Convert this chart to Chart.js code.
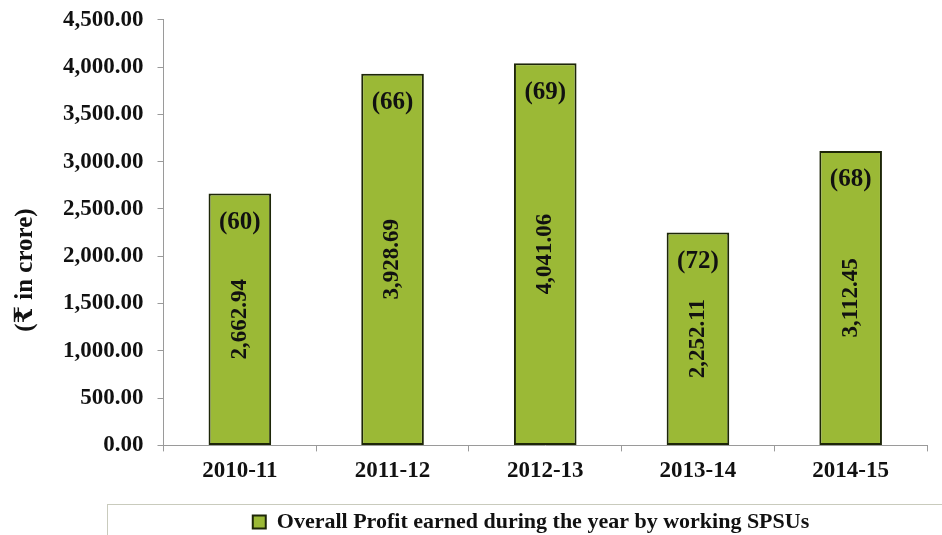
<!DOCTYPE html>
<html>
<head>
<meta charset="utf-8">
<script src="https://cdn.jsdelivr.net/npm/chart.js@4.4.1/dist/chart.umd.min.js"></script>
<style>
  html, body { margin: 0; padding: 0; background: #fff; }
  #wrap { width: 942px; height: 535px; }
</style>
</head>
<body>
<div id="wrap"><canvas id="profitChart" width="942" height="535"></canvas></div>
<script>
// Profit earned by working SPSUs (Rs in crore)
const years = ['2010-11', '2011-12', '2012-13', '2013-14', '2014-15'];
const profit = [2662.94, 3928.69, 4041.06, 2252.11, 3112.45];
// number of working SPSUs earning profit each year
const spsuCounts = [60, 66, 69, 72, 68];
const yTicks = [0, 500, 1000, 1500, 2000, 2500, 3000, 3500, 4000, 4500];

const FONT = "'Liberation Serif', 'Times New Roman', 'DejaVu Serif', serif";
const fmt = v => v.toLocaleString('en-US', { minimumFractionDigits: 2, maximumFractionDigits: 2 });

// labels inside the bars: count at top, value rotated in the middle
const barLabels = {
    id: 'barLabels',
    afterDatasetsDraw(chart) {
        const ctx = chart.ctx;
        const meta = chart.getDatasetMeta(0);
        ctx.save();
        ctx.fillStyle = '#111';
        ctx.textAlign = 'center';
        ctx.textBaseline = 'middle';
        meta.data.forEach((bar, i) => {
            ctx.font = 'bold 25px ' + FONT;
            ctx.fillText('(' + spsuCounts[i] + ')', bar.x, bar.y + 29);
            const mid = (bar.y + bar.base) / 2;
            ctx.save();
            ctx.translate(bar.x, mid);
            ctx.rotate(-Math.PI / 2);
            ctx.font = 'bold 23px ' + FONT;
            ctx.fillText(fmt(profit[i]), 0, 0);
            ctx.restore();
        });
        ctx.restore();
    }
};

// legend sits in a framed strip starting under the y axis labels
const legendFrame = {
    id: 'legendFrame',
    afterLayout(chart) {
        chart.legend.left += 62;
        chart.legend.right += 62;
    },
    afterDraw(chart) {
        const lg = chart.legend;
        const ctx = chart.ctx;
        ctx.save();
        ctx.strokeStyle = '#c9cbbd';
        ctx.lineWidth = 1;
        ctx.strokeRect(107.5, lg.top + 13.5, chart.width, chart.height);
        ctx.restore();
    }
};

new Chart(document.getElementById('profitChart'), {
    type: 'bar',
    data: {
        labels: years,
        datasets: [{
            label: 'Overall Profit earned during the year by working SPSUs',
            data: profit,
            backgroundColor: '#9bb936',
            borderColor: '#1d2608',
            borderWidth: 2,
            borderSkipped: false,
            barPercentage: 0.41,
            categoryPercentage: 1
        }]
    },
    options: {
        responsive: false,
        animation: false,
        layout: { padding: { top: 1, right: 15, left: 11, bottom: -8 } },
        scales: {
            x: {
                offset: true,
                grid: { offset: true, drawOnChartArea: false, drawTicks: true, tickLength: 6, color: '#9a9a9a' },
                border: { color: '#9a9a9a' },
                ticks: { color: '#111', font: { family: FONT, size: 23, weight: 'bold' }, padding: 6 }
            },
            y: {
                min: 0,
                max: 4500,
                afterBuildTicks(scale) { scale.ticks = yTicks.map(v => ({ value: v })); },
                grid: { drawOnChartArea: false, drawTicks: true, tickLength: 6, color: '#9a9a9a' },
                border: { color: '#9a9a9a' },
                ticks: {
                    color: '#111',
                    font: { family: FONT, size: 23, weight: 'bold', lineHeight: 0.5 },
                    padding: 14,
                    callback: v => fmt(v)
                },
                title: {
                    display: true,
                    // trailing spaces push the title a little below the axis middle
                    text: '(₹ in crore)            ',
                    color: '#111',
                    font: { family: FONT, size: 25, weight: 'bold' },
                    padding: { top: 0, bottom: 8 }
                }
            }
        },
        plugins: {
            legend: {
                position: 'bottom',
                labels: {
                    color: '#111',
                    font: { family: FONT, size: 22, weight: 'bold' },
                    boxWidth: 13,
                    boxHeight: 13,
                    padding: 20
                }
            },
            tooltip: { enabled: false }
        }
    },
    plugins: [barLabels, legendFrame]
});
</script>
</body>
</html>
